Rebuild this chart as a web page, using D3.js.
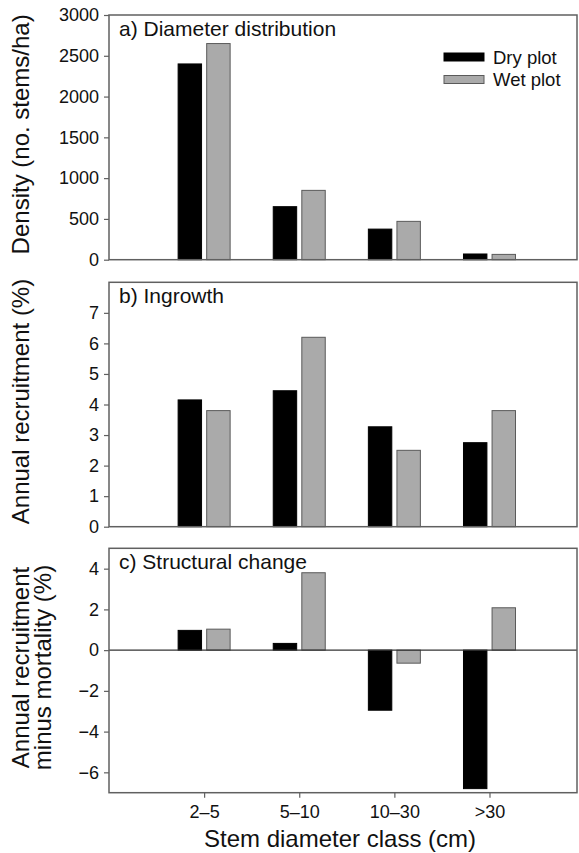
<!DOCTYPE html>
<html>
<head>
<meta charset="utf-8">
<script src="https://cdn.jsdelivr.net/npm/d3@7"></script>
<style>
  html, body { margin: 0; padding: 0; background: #fff; }
  svg { display: block; font-family: "Liberation Sans", Arial, Helvetica, sans-serif; }
</style>
</head>
<body>
<svg id="chart" width="579" height="853"></svg>
<script>
// Stem diameter classes and plot series
const categories = ["2–5", "5–10", "10–30", ">30"];
const series = ["Dry plot", "Wet plot"];

// a) Diameter distribution (stems/ha)
const densityDry = [2400, 650, 375, 70];
const densityWet = [2650, 850, 470, 65];
const densityTicks = [0, 500, 1000, 1500, 2000, 2500, 3000];

// b) Ingrowth: annual recruitment (%)
const ingrowthDry = [4.15, 4.45, 3.27, 2.75];
const ingrowthWet = [3.8, 6.2, 2.5, 3.8];
const ingrowthTicks = [0, 1, 2, 3, 4, 5, 6, 7];

// c) Structural change: recruitment minus mortality (%)
const changeDry = [0.97, 0.33, -2.95, -6.8];
const changeWet = [1.03, 3.8, -0.64, 2.08];
const changeTicks = [-6, -4, -2, 0, 2, 4];

const svg = d3.select("#chart");
const frameColor = "#606060";
const fills = { "Dry plot": "#000000", "Wet plot": "#aaaaaa" };
const strokes = { "Dry plot": "#000000", "Wet plot": "#5a5a5a" };
const fmt = d3.format("d");

const left = 109, right = 577;
const x = d3.scaleLinear().domain([0, 4.92]).range([left, right]);
const xSub = d3.scaleBand().domain(series).range([-26, 26]).paddingInner(0.18);

const panels = [
  { title: "a) Diameter distribution", top: 15, bottom: 259.7, domain: [0, 3000],
    ticks: densityTicks, dry: densityDry, wet: densityWet,
    ylabel: ["Density (no. stems/ha)"], xTicks: false },
  { title: "b) Ingrowth", top: 282.3, bottom: 526.7, domain: [0, 8],
    ticks: ingrowthTicks, dry: ingrowthDry, wet: ingrowthWet,
    ylabel: ["Annual recruitment (%)"], xTicks: false },
  { title: "c) Structural change", top: 548.3, bottom: 792.7, domain: [-7, 5],
    ticks: changeTicks, dry: changeDry, wet: changeWet,
    ylabel: ["Annual recruitment", "minus mortality (%)"], xTicks: true }
];

panels.forEach(p => {
  const y = d3.scaleLinear().domain(p.domain).range([p.bottom, p.top]);
  const g = svg.append("g");

  // bars
  const rows = categories.map((c, i) => ({ c, i, "Dry plot": p.dry[i], "Wet plot": p.wet[i] }));
  const grp = g.selectAll("g.grp").data(rows).join("g")
    .attr("transform", d => `translate(${x(d.i + 1)},0)`);
  grp.selectAll("rect").data(d => series.map(s => ({ s, v: d[s] }))).join("rect")
    .attr("x", d => xSub(d.s))
    .attr("width", xSub.bandwidth())
    .attr("y", d => y(Math.max(0, d.v)))
    .attr("height", d => Math.abs(y(d.v) - y(0)))
    .attr("fill", d => fills[d.s])
    .attr("stroke", d => strokes[d.s])
    .attr("stroke-width", 1);

  // zero line inside the panel when the domain spans negatives
  if (p.domain[0] < 0) {
    g.append("line")
      .attr("x1", left).attr("x2", right)
      .attr("y1", y(0)).attr("y2", y(0))
      .attr("stroke", "#333").attr("stroke-width", 1.2);
  }

  // frame
  g.append("rect")
    .attr("x", left).attr("y", p.top)
    .attr("width", right - left).attr("height", p.bottom - p.top)
    .attr("fill", "none").attr("stroke", frameColor).attr("stroke-width", 1.5);

  // y axis
  const yAxis = g.append("g").attr("transform", `translate(${left},0)`)
    .call(d3.axisLeft(y).tickValues(p.ticks).tickFormat(fmt).tickSize(5).tickPadding(5));
  yAxis.select(".domain").remove();
  yAxis.selectAll(".tick line").attr("stroke", frameColor).attr("stroke-width", 1.2);
  yAxis.selectAll(".tick text").attr("font-size", 18).attr("fill", "#111")
    .style("font-family", "'Liberation Sans', Arial, sans-serif");

  // x axis (bottom panel only)
  if (p.xTicks) {
    const xAxis = g.append("g").attr("transform", `translate(0,${p.bottom})`)
      .call(d3.axisBottom(x).tickValues(categories.map((c, i) => i + 1))
        .tickFormat((d, i) => categories[i]).tickSize(5).tickPadding(8));
    xAxis.select(".domain").remove();
    xAxis.selectAll(".tick line").attr("stroke", frameColor).attr("stroke-width", 1.2);
    xAxis.selectAll(".tick text").attr("font-size", 18).attr("fill", "#111")
      .style("font-family", "'Liberation Sans', Arial, sans-serif");
  }

  // panel title
  g.append("text")
    .attr("x", 119).attr("y", p.top + 21)
    .attr("font-size", 21).attr("fill", "#111")
    .text(p.title);

  // y axis label
  const cy = (p.top + p.bottom) / 2;
  const lines = p.ylabel;
  const lh = 21.5;
  lines.forEach((t, k) => {
    const bx = 29 + k * lh;
    g.append("text")
      .attr("transform", `translate(${bx},${cy - 3}) rotate(-90)`)
      .attr("text-anchor", "middle")
      .attr("font-size", 24).attr("fill", "#111")
      .text(t);
  });
});

// x axis title
svg.append("text")
  .attr("x", 340).attr("y", 847)
  .attr("text-anchor", "middle")
  .attr("font-size", 24).attr("fill", "#111")
  .text("Stem diameter class (cm)");

// legend
const legend = svg.append("g");
series.forEach((s, k) => {
  const ly = 57 + k * 22.5;
  legend.append("rect")
    .attr("x", 444).attr("y", ly - 4).attr("width", 40).attr("height", 8)
    .attr("fill", fills[s]).attr("stroke", strokes[s]).attr("stroke-width", 1);
  legend.append("text")
    .attr("x", 493).attr("y", ly + 6.5)
    .attr("font-size", 18.5).attr("fill", "#111")
    .text(s);
});
</script>
</body>
</html>
